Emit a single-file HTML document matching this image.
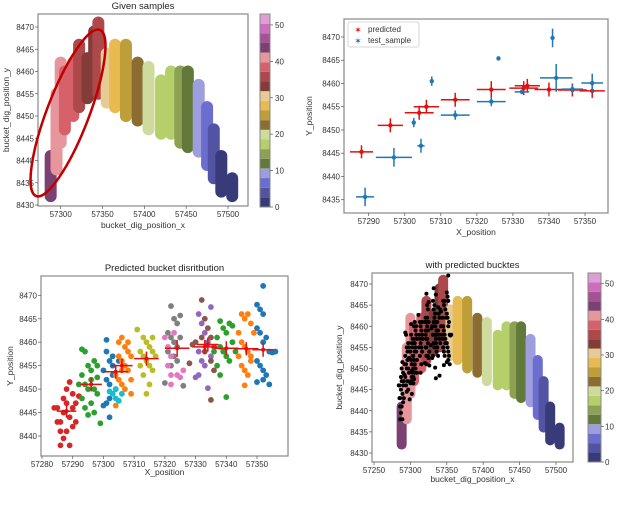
<!DOCTYPE html>
<html><head><meta charset="utf-8"><style>
body{margin:0;background:#fff;}
svg{display:block;font-family:"Liberation Sans","DejaVu Sans",sans-serif;}
</style></head><body>
<svg id="c" width="640" height="512" viewBox="0 0 640 512"></svg>
<script>
// ===== data =====
const cmapColors=["#393b79","#5254a3","#6b6ecf","#9c9ede","#637939","#8ca252","#b5cf6b","#cedb9c","#8c6d31","#bd9e39","#e7ba52","#e7cb94","#843c39","#ad494a","#d6616b","#e7969c","#7b4173","#a55194","#ce6dbd","#de9ed6"];
const bandX=[57288,57295,57300,57305,57315,57322,57332,57340,57345,57355,57365,57378,57392,57405,57420,57432,57443,57452,57465,57475,57483,57492,57505];
const bandYlo=[8432,8438,8444,8447,8450,8452,8454,8455,8455,8453,8452,8450,8449,8447,8446,8446,8444,8443,8442,8439,8436,8433,8432];
const bandYhi=[8441,8455,8462,8460,8462,8466,8463,8469,8471,8464,8466,8466,8462,8461,8458,8460,8460,8460,8457,8452,8447,8441,8436];
const bandVal=[44,41,40.5,38,38,35.5,33,33,35,30.5,27.8,25,22.5,19.8,17.2,17.2,14.5,12,9.3,6.6,4,1.3,1.3];
const predX=[57288,57296,57304,57306,57314,57324,57333,57334,57340,57346.5,57352];
const predY=[8445.3,8451,8453.7,8455,8456.5,8458.7,8459,8459.5,8458.7,8458.6,8458.4];
const predXerr=[3.2,3.5,4,3.5,4,4,4,3.5,4,4,3.5];
const predYerr=[1.4,1.5,1.5,1.5,1.5,1.8,1.5,1.5,1.5,1.4,1.5];
const testX=[57289,57297,57302.5,57304.5,57307.5,57314,57324,57326,57332.5,57341,57342,57346.5,57352];
const testY=[8435.6,8444.1,8451.6,8446.6,8460.5,8453.2,8456.1,8465.4,8458.2,8469.8,8461.2,8458.8,8460.1];
const testXerr=[2.5,5,0.5,1,0.5,4,4,0.5,2,0.5,4.5,3,3];
const testYerr=[2,2,1,1.5,1,1,1,0.3,0.5,2,3,1,2];
const clusterColors=["#d62728","#2ca02c","#1f77b4","#17becf","#ff7f0e","#bcbd22","#7f7f7f","#e377c2","#9467bd","#8c564b","#2ca02c","#ff7f0e","#1f77b4"];
const clusterPts=[
[[57285,8446],[57286,8443],[57287,8448],[57288,8450],[57289,8451.5],[57290,8449],[57291,8447],[57287,8445],[57289,8444],[57290,8442],[57288,8441],[57287,8439.5],[57286,8438],[57289,8438],[57291,8443],[57292,8448.5],[57284,8446],[57285,8443],[57290,8446],[57288,8447],[57286,8441]],
[[57293,8458.5],[57294,8458],[57295,8455],[57296,8454],[57297,8456],[57298,8455],[57293,8453],[57294,8451],[57295,8450],[57296,8452],[57297,8450],[57298,8449],[57293,8448],[57294,8446],[57296,8447],[57297,8445],[57299,8442.7],[57292,8451],[57298,8452.5],[57295,8444.5]],
[[57301,8460.5],[57301,8458],[57302,8456],[57303,8455],[57300,8454],[57301,8452],[57302,8451],[57303,8453],[57304,8450],[57302,8448],[57301,8447],[57303,8457],[57302,8444],[57300,8446.5],[57305,8456]],
[[57303,8449],[57304,8448],[57305,8447.5],[57306,8449],[57302,8449.5],[57304,8450]],
[[57305,8460],[57306,8461],[57307,8459],[57308,8458],[57305,8457],[57306,8456],[57307,8455],[57308,8454],[57304,8453],[57305,8452],[57306,8451],[57307,8450],[57309,8452],[57309,8457],[57304,8446.5],[57309,8449],[57306,8454],[57308,8460]],
[[57311,8462.7],[57313,8461],[57314,8460],[57315,8459],[57316,8458],[57312,8458],[57313,8457],[57314,8456],[57315,8455],[57316,8454],[57317,8457],[57312,8455],[57313,8453],[57315,8451],[57314,8449],[57316,8461]],
[[57322,8467.7],[57323,8465],[57324,8464],[57325,8465.7],[57321,8462],[57322,8461],[57323,8460],[57324,8459],[57325,8461],[57321,8458],[57323,8457],[57324,8456],[57322,8455],[57326,8450.7],[57320,8451.3]],
[[57320,8461],[57321,8459],[57323,8462],[57322,8457],[57321,8455],[57322,8453],[57325,8452.5],[57326,8454],[57324,8453],[57322,8451]],
[[57331,8466],[57332,8464],[57333,8462],[57334,8460],[57335,8467.5],[57331,8458],[57332,8456],[57333,8455],[57331,8453],[57330,8452.5],[57334,8450.2],[57335,8457]],
[[57332,8469],[57333,8465],[57334,8463],[57335,8461],[57336,8459],[57332,8461],[57333,8458],[57335,8456],[57336,8454],[57335,8447.7],[57330,8460],[57328,8455.5],[57329,8459.5]],
[[57338,8464.5],[57339,8463],[57340,8462],[57341,8464],[57342,8463.5],[57337,8461],[57338,8459],[57339,8458],[57340,8457],[57341,8456],[57342,8460],[57336,8458],[57337,8455],[57338,8453],[57340,8448.3],[57343,8458]],
[[57345,8466],[57346,8465],[57347,8466],[57348,8464],[57344,8462],[57345,8460],[57346,8459],[57347,8458],[57348,8457],[57344,8457],[57345,8455],[57346,8454],[57347,8453],[57348,8456],[57346,8450.8],[57349,8462]],
[[57352,8472],[57350,8468],[57351,8467],[57352,8466],[57350,8463],[57351,8462],[57353,8461],[57352,8460],[57354,8458],[57355,8457.8],[57350,8456],[57351,8455],[57352,8454],[57353,8453],[57350,8451.5],[57352,8452],[57354,8451],[57356,8458]]
];
const ticks1X=[57300,57350,57400,57450,57500];
const ticksBigY=[8430,8435,8440,8445,8450,8455,8460,8465,8470];
const ticks2X=[57290,57300,57310,57320,57330,57340,57350];
const ticks2Y=[8435,8440,8445,8450,8455,8460,8465,8470];
const ticks3X=[57280,57290,57300,57310,57320,57330,57340,57350];
const ticks3Y=[8440,8445,8450,8455,8460,8465,8470];
const ticks4X=[57250,57300,57350,57400,57450,57500];
const cbarTicks=[0,10,20,30,40,50];
const cbarMax=53;

// ===== helpers =====
const NS="http://www.w3.org/2000/svg";
const svg=document.getElementById('c');
function el(tag,attrs,parent,text){const e=document.createElementNS(NS,tag);for(const k in attrs)e.setAttribute(k,attrs[k]);if(text!==undefined)e.textContent=text;(parent||svg).appendChild(e);return e;}
function lin(d0,d1,r0,r1){return v=>r0+(v-d0)*(r1-r0)/(d1-d0);}
function cmap(v){let i=Math.floor(v/cbarMax*20);i=Math.max(0,Math.min(19,i));return cmapColors[i];}

function axes(name,box,sx,sy,xt,yt,xlab,ylab,title,ylabX,xlabY){
  const g=el('g',{},svg);
  
  
  const tg=el('g',{'font-size':'8','fill':'#333'},g);
  xt.forEach(t=>{const x=sx(t);el('line',{x1:x,x2:x,y1:box.b,y2:box.b+3,stroke:'#555','stroke-width':0.7},tg);
    const tx=el('text',{x:x,y:box.b+11,'text-anchor':'middle'},tg,String(t));});
  yt.forEach(t=>{const y=sy(t);el('line',{x1:box.l-3,x2:box.l,y1:y,y2:y,stroke:'#555','stroke-width':0.7},tg);
    const ty=el('text',{x:box.l-4,y:y+3,'text-anchor':'end'},tg,String(t));});
  if(xlab){const t=el('text',{x:(box.l+box.r)/2,y:xlabY,'text-anchor':'middle','font-size':'8.5',fill:'#333'},g,xlab);}
  if(ylab){const cy=(box.t+box.b)/2;const t=el('text',{x:ylabX,y:cy,'text-anchor':'middle','font-size':'8.5',fill:'#333',transform:`rotate(-90 ${ylabX} ${cy})`},g,ylab);}
  if(title){const t=el('text',{x:(box.l+box.r)/2,y:box.t-5,'text-anchor':'middle','font-size':'9.5',fill:'#222'},g,title);}
  return g;
}
function frame(box){const f=el('rect',{x:box.l,y:box.t,width:box.r-box.l,height:box.b-box.t,fill:'none',stroke:'#888','stroke-width':1.2});}
function colorbar(name,x,w,t,b,lx){
  const g=el('g',{},svg);
  const s=lin(0,cbarMax,b,t);
  cmapColors.forEach((c,i)=>{const y0=s(i*cbarMax/20),y1=s((i+1)*cbarMax/20);el('rect',{x:x,y:y1,width:w,height:y0-y1,fill:c},g);});
  el('rect',{x:x,y:t,width:w,height:b-t,fill:'none',stroke:'#888','stroke-width':1},g);
  cbarTicks.forEach(v=>{const y=s(v);el('line',{x1:x+w,x2:x+w+3,y1:y,y2:y,stroke:'#555','stroke-width':0.7},g);el('text',{x:lx,y:y+3,'font-size':'8',fill:'#333'},g,String(v));});
}
function bands(sx,sy,sw,name){
  const g=el('g',{},svg);
  bandX.forEach((x,i)=>{const l=el('line',{x1:sx(x),x2:sx(x),y1:sy(bandYlo[i]),y2:sy(bandYhi[i]),stroke:cmap(bandVal[i]),'stroke-width':sw,'stroke-linecap':'round'},g);
    });
}
function errpts(sx,sy,xs,ys,xe,ye,color,name,r){
  const g=el('g',{},svg);
  xs.forEach((x,i)=>{const cx=sx(x),cy=sy(ys[i]);
    el('line',{x1:sx(x-xe[i]),x2:sx(x+xe[i]),y1:cy,y2:cy,stroke:color,'stroke-width':1.5},g);
    el('line',{x1:cx,x2:cx,y1:sy(ys[i]-ye[i]),y2:sy(ys[i]+ye[i]),stroke:color,'stroke-width':1.5},g);
    const c=el('circle',{cx:cx,cy:cy,r:r,fill:color},g);});
}
function scatter(sx,sy,r,black,name){
  const g=el('g',{},svg);
  clusterPts.forEach((pts,k)=>pts.forEach(p=>{const c=el('circle',{cx:sx(p[0]),cy:sy(p[1]),r:r,fill:black?'#000':clusterColors[k]},g);
    }));
}

// ===== plot 1 =====
const b1={l:38,t:14,r:248,b:206};
const sx1=lin(57300,57500,60.7,228), sy1=lin(8430,8470,205,27);
bands(sx1,sy1,12,'given-samples-bands');
frame(b1);
axes('given-samples-axes',b1,sx1,sy1,ticks1X,ticksBigY,'bucket_dig_position_x','bucket_dig_position_y','Given samples',9,228);
colorbar('colorbar-1',260,10,14,207,275);
const ell=el('ellipse',{cx:68,cy:113,rx:89,ry:21,fill:'none',stroke:'#c00000','stroke-width':2.5,transform:'rotate(-69 68 113)'});


// ===== plot 2 =====
const b2={l:344,t:19,r:608,b:213};
const sx2=lin(57290,57350,368.7,585), sy2=lin(8435,8470,199.7,37);
errpts(sx2,sy2,predX,predY,predXerr,predYerr,'#e01010','predicted-series',2.2);
errpts(sx2,sy2,testX,testY,testXerr,testYerr,'#1f77b4','test-sample-series',2.2);
frame(b2);
axes('prediction-axes',b2,sx2,sy2,ticks2X,ticks2Y,'X_position','Y_position',null,312,235);
(function(){const g=el('g',{});
 el('rect',{x:348,y:22,width:71,height:25,fill:'#fff',stroke:'#ccc','stroke-width':0.8,rx:2},g);
 el('text',{x:358,y:33,'font-size':'9',fill:'#e01010','text-anchor':'middle'},g,'✶');
 el('text',{x:368,y:32,'font-size':'8',fill:'#333'},g,'predicted');
 el('text',{x:358,y:44,'font-size':'9',fill:'#1f77b4','text-anchor':'middle'},g,'✶');
 el('text',{x:368,y:43,'font-size':'8',fill:'#333'},g,'test_sample');})();

// ===== plot 3 =====
const b3={l:41,t:276,r:288,b:456};
const sx3=lin(57280,57350,42,257), sy3=lin(8440,8470,436,295.3);
scatter(sx3,sy3,2.9,false,'predicted-distribution-points');
errpts(sx3,sy3,predX,predY,predXerr,predYerr,'#e01010','predicted-centers',2);
frame(b3);
axes('distribution-axes',b3,sx3,sy3,ticks3X,ticks3Y,'X_position','Y_position','Predicted bucket disritbution',13,475);

// ===== plot 4 =====
const b4={l:372,t:273,r:573,b:462};
const sx4=lin(57250,57500,374,556), sy4=lin(8430,8470,453,284);
bands(sx4,sy4,10,'bucket-bands');
scatter(sx4,sy4,2,true,'predicted-bucket-points');
frame(b4);
axes('bucket-axes',b4,sx4,sy4,ticks4X,ticksBigY,'bucket_dig_position_x','bucket_dig_position_y','with predicted bucktes',342,482);
colorbar('colorbar-2',588,13,273,462,605);
</script>
</body></html>
